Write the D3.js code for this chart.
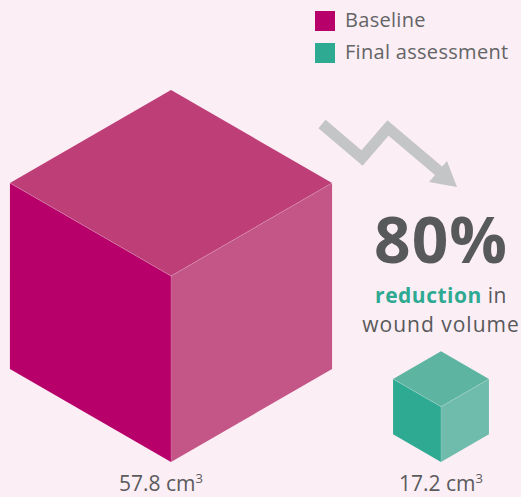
<!DOCTYPE html>
<html>
<head>
<meta charset="utf-8">
<script src="https://cdn.jsdelivr.net/npm/d3@7"></script>
<style>
  html, body { margin: 0; padding: 0; background: #fceef5; }
  svg { display: block; font-family: "Open Sans", "Lato", sans-serif; }
</style>
</head>
<body>
<div id="chart"></div>
<script>
// wound volume, cm3
var categories = ["Baseline", "Final assessment"];
var volumes = [57.8, 17.2];
var reduction = "80%";

// colours for each cube: left face, top face, right face
var leftColors = ["#b8006a", "#2eaa93"];
var topColors = ["#be3e78", "#5cb4a1"];
var rightColors = ["#c45687", "#70bcac"];

var width = 521,
    height = 497;

var svg = d3.select("#chart")
            .append("svg")
            .attr("width", width)
            .attr("height", height);

svg.append("rect")
   .attr("width", width)
   .attr("height", height)
   .attr("fill", "#fceef5");

// cube edge is drawn linear in the value
var edge = d3.scaleLinear().domain([0, 57.8]).range([0, 186]);
var x = d3.scalePoint().domain(categories).range([171, 441]);
var baseY = 462;
var c30 = Math.cos(Math.PI / 6), s30 = 0.5;

var cubes = svg.append("g").selectAll("g.cube")
            .data(categories)
            .enter()
            .append("g")
            .attr("class", "cube");

function pts(arr) { return arr.map(function (p) { return p.join(","); }).join(" "); }

cubes.each(function (d, i) {
  var e = edge(volumes[i]);
  var cx = x(d);
  var hw = e * c30, hh = e * s30;
  var g = d3.select(this);
  var bottom = [cx, baseY],
      mid = [cx, baseY - e],
      bl = [cx - hw, baseY - hh],
      br = [cx + hw, baseY - hh],
      tl = [cx - hw, baseY - hh - e],
      tr = [cx + hw, baseY - hh - e],
      top = [cx, baseY - 2 * e];

  g.append("polygon").attr("points", pts([bottom, mid, tl, bl])).attr("fill", leftColors[i]);
  g.append("polygon").attr("points", pts([bottom, mid, tr, br])).attr("fill", rightColors[i]);
  g.append("polygon").attr("points", pts([mid, tl, top, tr])).attr("fill", topColors[i]);
  // faint seams
  g.append("polyline")
   .attr("points", pts([tl, mid, tr]))
   .attr("fill", "none")
   .attr("stroke", "#ffffff")
   .attr("stroke-opacity", 0.25)
   .attr("stroke-width", 0.8);
  g.append("line")
   .attr("x1", mid[0]).attr("y1", mid[1])
   .attr("x2", bottom[0]).attr("y2", bottom[1])
   .attr("stroke", "#ffffff")
   .attr("stroke-opacity", 0.2)
   .attr("stroke-width", 0.8);
});

// value labels under the cubes
var labels = svg.selectAll("text.vol")
        .data(categories)
        .enter()
        .append("text")
        .attr("class", "vol")
        .attr("x", function (d, i) { return x(d) - (i == 0 ? 10 : 0); })
        .attr("y", 491)
        .attr("text-anchor", "middle")
        .attr("fill", "#5b5b5d")
        .style("font-size", "21px");
labels.append("tspan").text(function (d, i) { return volumes[i] + " cm"; });
labels.append("tspan")
      .attr("dy", -8)
      .style("font-size", "13px")
      .text("3");

// legend
var legend = svg.selectAll("g.legend")
        .data(categories)
        .enter()
        .append("g")
        .attr("class", "legend")
        .attr("transform", function (d, i) { return "translate(315," + (11 + i * 32) + ")"; });
legend.append("rect")
      .attr("width", 20)
      .attr("height", 20)
      .attr("fill", function (d, i) { return leftColors[i]; });
legend.append("text")
      .attr("x", 30)
      .attr("y", 16)
      .attr("fill", "#636466")
      .style("font-size", "20px")
      .style("letter-spacing", "0.3px")
      .text(function (d) { return d; });

// zigzag arrow
svg.append("polyline")
   .attr("points", "322,124 362,158 388,128 440,172")
   .attr("fill", "none")
   .attr("stroke", "#c4c5c6")
   .attr("stroke-width", 11)
   .attr("stroke-linejoin", "miter");
svg.append("polygon")
   .attr("points", "457,187 429,182 447,161")
   .attr("fill", "#c4c5c6");

// headline
svg.append("text")
   .attr("x", 441)
   .attr("y", 263)
   .attr("text-anchor", "middle")
   .attr("fill", "#58595b")
   .style("font-size", "64px")
   .style("font-weight", "bold")
   .style("letter-spacing", "1px")
   .text(reduction);

var sub = svg.append("text")
   .attr("x", 441)
   .attr("y", 303)
   .attr("text-anchor", "middle")
   .attr("fill", "#58595b")
   .style("font-size", "21px")
   .style("letter-spacing", "0.5px");
sub.append("tspan").attr("fill", "#2eaa93").style("font-weight", "bold").text("reduction");
sub.append("tspan").text(" in");

svg.append("text")
   .attr("x", 441)
   .attr("y", 332)
   .attr("text-anchor", "middle")
   .attr("fill", "#58595b")
   .style("font-size", "21px")
   .style("letter-spacing", "1px")
   .text("wound volume");
</script>
</body>
</html>
